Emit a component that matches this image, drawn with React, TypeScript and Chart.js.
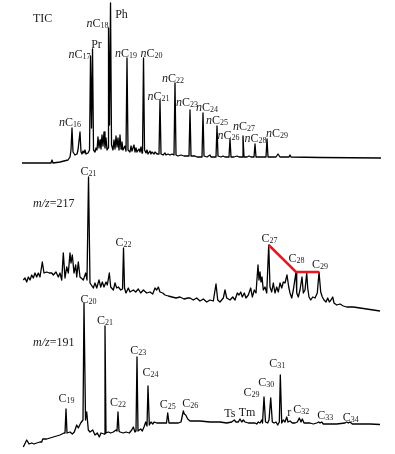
import React, { useEffect, useRef } from "react";
import { Chart, registerables } from "chart.js";

Chart.register(...registerables);

type Pt = [number, number];

// ---- DATA: retention time (min), abundance (arbitrary units) ----
const ticTrace: Pt[] = [
  [5.5, 0], [11.5, 0], [12.75, 0], [13, 3], [13.25, 0], [15, 1], [16, 2], [17, 3], [17.5, 6], [17.75, 13],
  [18, 35], [18.25, 11], [18.75, 8], [19.25, 9], [19.5, 13], [20, 31], [20.25, 11], [20.5, 9], [20.75, 12],
  [21, 10], [21.25, 13], [21.5, 9], [22, 10], [22.38, 13], [22.63, 107], [22.88, 35], [23.13, 114], [23.38, 13],
  [23.75, 11], [24, 15], [24.25, 13], [24.5, 26], [24.75, 15], [25, 23], [25.25, 14], [25.5, 28], [25.75, 17],
  [26, 31], [26.25, 15], [26.5, 25], [26.75, 13], [27, 15], [27.13, 135], [27.38, 38], [27.63, 160], [27.88, 18],
  [28.25, 13], [28.5, 23], [28.75, 14], [29, 27], [29.25, 16], [29.5, 25], [29.75, 13], [30, 28], [30.25, 14],
  [30.5, 21], [30.75, 13], [31.25, 17], [31.5, 12], [31.75, 105], [32, 13], [32.5, 11], [32.75, 17], [33, 12],
  [33.5, 18], [33.75, 11], [34, 15], [34.25, 11], [34.75, 14], [35, 11], [35.25, 16], [35.5, 10], [35.63, 11],
  [35.88, 105], [36.13, 13], [36.5, 10], [36.75, 13], [37, 9], [37.5, 12], [37.75, 9], [38, 11], [38.5, 9],
  [38.75, 11], [39.25, 9], [39.75, 9], [40, 63], [40.25, 9], [40.75, 8], [41.25, 10], [41.5, 8], [42, 9],
  [42.5, 8], [43, 9], [43.5, 8], [43.75, 80], [44, 8], [44.5, 7], [45.25, 8], [46, 7], [46.75, 7], [47.25, 7],
  [47.5, 53], [47.75, 7], [48.75, 7], [49.25, 6], [50.5, 6], [50.75, 50], [51, 7], [51.75, 6], [52.5, 8],
  [52.75, 6], [54, 6], [54.25, 37], [54.5, 7], [55.25, 6], [55.75, 7], [56.25, 6], [57.25, 6], [57.5, 24],
  [57.75, 6], [58.5, 6], [59.25, 7], [59.75, 6], [60.5, 6], [60.75, 27], [61, 6], [61.75, 6], [62.25, 7],
  [62.75, 6], [63.5, 6], [63.75, 19], [64, 6], [65, 6], [66.5, 6], [66.75, 24], [67, 6], [69, 6], [69.5, 9],
  [70, 6], [72.25, 6], [72.5, 8], [72.75, 6], [80, 5.5], [95.25, 5],
];

const m217Trace: Pt[] = [
  [5.83, 35], [6.25, 37], [6.68, 33], [7.08, 38], [7.5, 35], [7.93, 40], [8.33, 37], [8.75, 42], [9.18, 38],
  [9.58, 42], [10, 38], [10.58, 53], [11, 42], [11.68, 43], [12.33, 42], [12.93, 42], [13.33, 40], [14, 43],
  [14.58, 38], [15, 42], [15.43, 35], [15.83, 62], [16.25, 37], [16.68, 48], [17.08, 42], [17.5, 62], [17.75, 52],
  [18.08, 60], [18.5, 42], [18.93, 50], [19.18, 38], [19.58, 53], [20, 38], [20.83, 35], [21.43, 42], [21.75, 35],
  [22.13, 138], [22.5, 32], [23.33, 27], [23.75, 32], [24.18, 27], [24.75, 35], [25.18, 28], [25.58, 33], [26, 28],
  [26.5, 33], [26.83, 30], [27.33, 42], [27.68, 28], [28.33, 25], [28.75, 32], [29.18, 27], [29.58, 28],
  [30.18, 25], [30.63, 26], [30.88, 67], [31.13, 27], [31.5, 22], [32.08, 27], [32.5, 23], [33.33, 25],
  [33.93, 23], [34.58, 26], [35.18, 22], [35.83, 25], [36.68, 22], [37.5, 23], [38.18, 21], [38.75, 27],
  [39.18, 25], [39.58, 28], [40, 23], [40.68, 22], [41.25, 20], [42.08, 19], [43, 18], [44, 17], [45, 18],
  [46, 16], [47, 17], [47.5, 17], [48.33, 15], [49.18, 17], [50, 14], [50.83, 16], [51.68, 13], [52.5, 15],
  [53.33, 14], [54, 31], [54.43, 15], [55, 13], [55.83, 17], [56.25, 25], [56.68, 17], [57.5, 15], [58.18, 18],
  [58.75, 15], [59.33, 22], [59.75, 20], [60.18, 23], [60.58, 18], [61.08, 22], [61.5, 17], [62.08, 20],
  [62.68, 27], [63.08, 18], [63.58, 25], [64, 22], [64.5, 50], [64.75, 35], [65, 43], [65.25, 33], [65.5, 38],
  [65.83, 25], [66.25, 28], [66.68, 22], [67.18, 70], [67.5, 28], [67.93, 23], [68.33, 32], [68.75, 22],
  [69.18, 28], [69.58, 23], [70, 32], [70.43, 27], [70.83, 33], [71.25, 32], [71.75, 40], [72.18, 28],
  [72.5, 22], [72.93, 17], [73.33, 25], [74, 43], [74.18, 22], [74.58, 18], [75, 25], [75.5, 38], [75.83, 22],
  [76.25, 25], [76.68, 42], [76.93, 27], [77.25, 18], [77.68, 15], [78.18, 18], [78.75, 17], [79.33, 22],
  [79.75, 43], [80.18, 23], [80.58, 18], [81, 15], [81.5, 13], [81.93, 17], [82.33, 13], [82.75, 15],
  [83.18, 18], [83.5, 12], [84.18, 10], [85, 11], [85.83, 9], [86.68, 8], [88.33, 8], [90, 7], [91.68, 6],
  [93.33, 5], [95, 4],
];

const m191Trace: Pt[] = [
  [5.83, 5], [6.68, 12], [7.25, 8], [7.93, 9], [8.5, 8], [9.18, 9], [10, 10], [10.43, 10], [10.68, 13],
  [11.68, 13], [13.33, 15], [15, 17], [16, 19], [16.25, 19], [16.5, 43], [16.75, 19], [17.5, 20], [18.08, 18],
  [18.58, 20], [19.18, 27], [19.58, 24], [20.18, 29], [20.75, 32], [21, 149], [21.38, 32], [21.68, 40],
  [22.08, 22], [22.5, 20], [23.18, 22], [23.75, 17], [24.33, 19], [24.83, 15], [25.25, 19], [26, 18],
  [26.25, 126], [26.5, 19], [27.08, 20], [27.68, 19], [28.33, 20], [29, 22], [29.25, 21], [29.5, 40],
  [29.75, 21], [30, 20], [30.83, 19], [31.5, 20], [32.33, 19], [32.93, 22], [33.33, 25], [33.75, 20],
  [34, 21], [34.25, 95], [34.5, 21], [35.18, 23], [35.58, 21], [36, 25], [36.43, 30], [36.75, 26], [37, 66],
  [37.33, 27], [37.75, 30], [38.18, 28], [38.58, 30], [39.18, 29], [40, 29], [40.83, 29], [41.63, 29],
  [41.93, 39], [42.25, 29], [43.33, 29], [44.58, 29], [45.25, 30], [45.83, 41], [46.08, 38], [46.43, 37],
  [46.93, 33], [47.5, 31], [48.75, 31], [50, 31], [52.5, 30], [55, 30], [56.68, 29], [57.93, 30], [58.58, 32],
  [59, 30], [59.58, 30], [60, 33], [60.43, 30], [60.83, 32], [61.25, 30], [62.08, 29], [62.93, 29], [63.75, 29],
  [64.18, 28], [64.58, 30], [65, 29], [65.43, 32], [65.63, 29], [66, 55], [66.38, 30], [66.93, 29], [67.25, 32],
  [67.68, 54], [68.08, 30], [68.5, 29], [69, 30], [69.43, 27], [69.83, 30], [70.08, 77], [70.43, 29],
  [70.83, 32], [71.25, 30], [71.68, 35], [72, 30], [72.5, 31], [73.08, 29], [73.75, 29], [74.33, 30],
  [74.83, 34], [75.25, 30], [75.58, 33], [76, 29], [76.68, 29], [77.5, 29], [78.33, 28], [79.18, 29],
  [79.68, 30], [80, 29], [80.43, 30], [80.83, 28], [82.5, 28], [84.18, 28], [86.25, 29], [86.68, 30],
  [87.08, 29], [87.5, 30], [88.08, 28], [90, 28], [92.5, 28], [95, 27.5],
];

// Peak identifications (name, retention time of the peak apex)
const ticPeakNames = ["nC16", "nC17", "Pr", "nC18", "Ph", "nC19", "nC20", "nC21", "nC22", "nC23", "nC24", "nC25", "nC26", "nC27", "nC28", "nC29"];
const ticPeakTimes = [18, 22.63, 23.13, 27.13, 27.63, 31.75, 35.88, 40, 43.75, 47.5, 50.75, 54.25, 57.5, 60.75, 63.75, 66.75];

const m217PeakNames = ["C21", "C22", "C27", "C28", "C29"];
const m217PeakTimes = [22.13, 30.88, 67.18, 74, 79.75];

const m191PeakNames = ["C19", "C20", "C21", "C22", "C23", "C24", "C25", "C26", "Ts", "Tm", "C29", "C30", "C31", "r", "C32", "C33", "C34"];
const m191PeakTimes = [16.5, 21, 26.25, 29.5, 34.25, 37, 41.93, 45.83, 58.58, 60, 66, 67.68, 70.08, 71.68, 74.83, 80.43, 86.68];

// Regular steranes C27-C28-C29 trend (m/z 217)
const steraneTrendTimes = [67.18, 74, 79.75];

// ---- LAYOUT (pixel offsets of labels from their peak apex) ----
const ticLabelOffsets: Pt[] = [
  [-2, -6], [-11, -2.5], [4, -5.5], [-11, -5], [11, 11], [-1, -5], [8, -5], [-1.5, -4], [-2, -5], [-3, -8],
  [4, -6], [0, -6], [-1.5, -4], [1, -10], [0.5, -6], [10, -6],
];
const m217LabelOffsets: Pt[] = [[0, -6.5], [0, -6.5], [0.8, -7], [0.5, -14], [1, -8]];
const m191LabelOffsets: Pt[] = [
  [0.5, -11], [4.5, -4.5], [0, -6], [0, -10.5], [1.3, -7], [2.5, -14], [0, -9.5], [7, -8], [-4.5, -7.5],
  [7, -7.5], [-12.5, -5], [-4.5, -16], [-3, -12], [2.5, -5], [2, -9], [3.5, -7], [4, -5],
];
const panelTitles: { text: string; x: number; y: number }[] = [
  { text: "TIC", x: 33, y: 18 },
  { text: "m/z=217", x: 33, y: 203 },
  { text: "m/z=191", x: 33, y: 342 },
];

const W = 395;
const H = 454;
const FONT = '"Liberation Serif", "Times New Roman", Times, serif';

function peakValue(trace: Pt[], t: number): number {
  const p = trace.find((q) => Math.abs(q[0] - t) < 1e-6);
  return p ? p[1] : 0;
}

function drawLabel(ctx: CanvasRenderingContext2D, text: string, x: number, y: number, align: "center" | "left" = "center") {
  const big = `12px ${FONT}`;
  const it = `italic 12px ${FONT}`;
  const sub = `8px ${FONT}`;
  const parts: { s: string; font: string; dy: number }[] = [];
  const m = /^(n?)C(\d+)$/.exec(text);
  const mz = /^m\/z(=.*)$/.exec(text);
  if (m) {
    if (m[1]) parts.push({ s: "n", font: it, dy: 0 });
    parts.push({ s: "C", font: big, dy: 0 });
    parts.push({ s: m[2], font: sub, dy: 1 });
  } else if (mz) {
    parts.push({ s: "m/z", font: it, dy: 0 });
    parts.push({ s: mz[1], font: big, dy: 0 });
  } else {
    parts.push({ s: text, font: big, dy: 0 });
  }
  let total = 0;
  const widths = parts.map((p) => {
    ctx.font = p.font;
    const w = ctx.measureText(p.s).width;
    total += w;
    return w;
  });
  let cx = align === "center" ? x - total / 2 : x;
  const base = y + 4;
  ctx.textAlign = "left";
  ctx.textBaseline = "alphabetic";
  parts.forEach((p, i) => {
    ctx.font = p.font;
    ctx.fillText(p.s, cx, base + p.dy);
    cx += widths[i];
  });
}

const labelGroups = [
  { axis: "yTic", trace: ticTrace, names: ticPeakNames, times: ticPeakTimes, offsets: ticLabelOffsets },
  { axis: "y217", trace: m217Trace, names: m217PeakNames, times: m217PeakTimes, offsets: m217LabelOffsets },
  { axis: "y191", trace: m191Trace, names: m191PeakNames, times: m191PeakTimes, offsets: m191LabelOffsets },
];

const annotatePlugin = {
  id: "annotatePeaks",
  afterDatasetsDraw(chart: any) {
    const ctx: CanvasRenderingContext2D = chart.ctx;
    const xs = chart.scales.x;
    ctx.save();
    ctx.fillStyle = "#1a1a1a";
    for (const g of labelGroups) {
      const ys = chart.scales[g.axis];
      g.names.forEach((name, i) => {
        const t = g.times[i];
        const v = peakValue(g.trace, t);
        const [dx, dy] = g.offsets[i];
        drawLabel(ctx, name, xs.getPixelForValue(t) + dx, ys.getPixelForValue(v) + dy);
      });
    }
    for (const p of panelTitles) drawLabel(ctx, p.text, p.x, p.y, "left");
    ctx.restore();
  },
};

const toXY = (tr: Pt[]) => tr.map(([x, y]) => ({ x, y }));

export default function App() {
  const ref = useRef<HTMLCanvasElement | null>(null);
  useEffect(() => {
    if (!ref.current) return;
    const line = {
      borderColor: "#000",
      borderWidth: 1.3,
      pointRadius: 0,
      tension: 0,
      fill: false,
      clip: false as any,
      borderJoinStyle: "round" as const,
    };
    const chart = new Chart(ref.current, {
      type: "line",
      data: {
        datasets: [
          {
            ...line,
            label: "C27-C28-C29 steranes",
            data: steraneTrendTimes.map((t) => ({ x: t, y: peakValue(m217Trace, t) })),
            borderColor: "#e8161e",
            borderWidth: 2.5,
            borderJoinStyle: "miter" as const,
            yAxisID: "y217",
            order: 0,
          },
          { ...line, label: "TIC", data: toXY(ticTrace), yAxisID: "yTic", order: 1 },
          { ...line, label: "m/z 217", data: toXY(m217Trace), yAxisID: "y217", order: 2 },
          { ...line, label: "m/z 191", data: toXY(m191Trace), yAxisID: "y191", order: 3 },
        ],
      },
      options: {
        responsive: false,
        animation: false,
        devicePixelRatio: 1,
        layout: { padding: 0 },
        plugins: { legend: { display: false }, tooltip: { enabled: false }, title: { display: false } },
        scales: {
          x: { type: "linear", display: false, min: 0, max: 98.75 },
          yTic: { type: "linear", display: false, min: -291, max: 163 },
          y217: { type: "linear", display: false, min: -139, max: 315 },
          y191: { type: "linear", display: false, min: -2, max: 452 },
        },
      },
      plugins: [annotatePlugin],
    });
    return () => chart.destroy();
  }, []);
  return (
    <div style={{ position: "absolute", left: 0, top: 0, width: W, height: H, background: "#fff" }}>
      <canvas ref={ref} width={W} height={H} style={{ display: "block", width: W, height: H }} />
    </div>
  );
}
